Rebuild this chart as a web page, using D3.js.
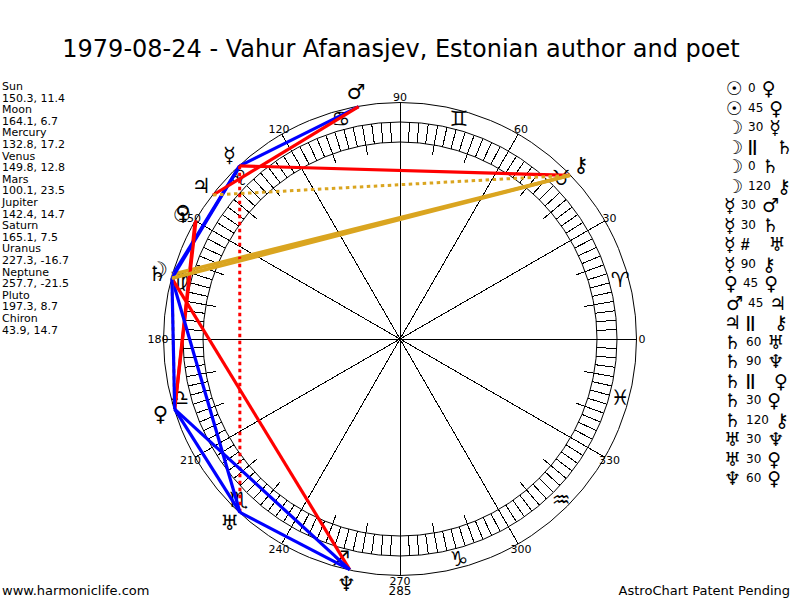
<!DOCTYPE html>
<html><head><meta charset="utf-8">
<style>html,body{margin:0;padding:0;background:#fff}svg{display:block}text{fill:#000;font-family:"DejaVu Sans",sans-serif}</style>
<script src="https://cdn.jsdelivr.net/npm/d3@7/dist/d3.min.js"></script>
</head><body><svg id="c" width="800" height="600"></svg>
<script>
const titleText = "1979-08-24 - Vahur Afanasjev, Estonian author and poet";
const planetNames = ["Sun","Moon","Mercury","Venus","Mars","Jupiter","Saturn","Uranus","Neptune","Pluto","Chiron"];
const longitudes = [150.3,164.1,132.8,149.8,100.1,142.4,165.1,227.3,257.7,197.3,43.9];
const latitudes = ["11.4","6.7","17.2","12.8","23.5","14.7","7.5","-16.7","-21.5","8.7","14.7"];
const planetGlyphs = ["☉","☽","☿","♀","♂","♃","♄","♅","♆","♀","⚷"];
const zodiacGlyphs = ["♈","♉","♊","♋","♌","♍","♎","♏","♐","♑","♒","♓"];
const aspectFrom = [0,0,1,1,1,1,2,2,2,2,3,4,5,6,6,6,6,6,7,7,8];
const aspectTo   = [3,9,2,6,6,10,4,6,7,10,9,5,10,7,8,9,9,10,8,9,9];
const aspectKind = ["0","45","30","||","0","120","30","30","#","90","45","45","||","60","90","||","30","120","30","30","60"];
const degreeLabels = [0,30,60,90,120,150,180,210,240,270,300,330];

const svg = d3.select("#c");
const cx = 400, cy = 339;
const angle = d3.scaleLinear().domain([0,360]).range([Math.PI/2, Math.PI/2-2*Math.PI]);
const radial = (deg,r) => { const p = d3.pointRadial(angle(deg), r); return [cx+p[0], cy+p[1]]; };

svg.append("text").attr("x",401).attr("y",57).attr("text-anchor","middle")
  .style("font-size","24px").text(titleText);

const wheel = svg.append("g").attr("fill","none").attr("stroke","#000").attr("stroke-width",1).attr("shape-rendering","crispEdges");
[236.5,217,197].forEach(r => wheel.append("circle").attr("cx",cx).attr("cy",cy).attr("r",r).attr("shape-rendering","auto"));
const seg = (g,deg,r0,r1) => { const a=radial(deg,r0), b=radial(deg,r1);
  g.append("line").attr("x1",a[0]).attr("y1",a[1]).attr("x2",b[0]).attr("y2",b[1]); };
d3.range(0,360,2.5).forEach(d => seg(wheel,d,197,217));
d3.range(0,360,10).forEach(d => seg(wheel,d,187,217));
d3.range(0,360,30).forEach(d => seg(wheel,d,0,236));

// zodiac
zodiacGlyphs.forEach((g,i) => { const p = radial(15+30*i,228);
  svg.append("text").attr("x",p[0]).attr("y",p[1]).attr("text-anchor","middle").attr("dominant-baseline","central")
    .style("font-size","21px").text(g+"\uFE0E"); });

// degree labels
degreeLabels.forEach(d => { const p = radial(d,242);
  svg.append("text").attr("x",p[0]).attr("y",p[1]+4).attr("text-anchor","middle").style("font-size","11px").text(d); });
svg.append("text").attr("x",400).attr("y",595).attr("text-anchor","middle").style("font-size","12px").text("285");

// aspect lines
const kindStyle = k => {
  if (k==="30"||k==="60") return {c:"#0000ff",w:3.2,d:null};
  if (k==="45"||k==="90") return {c:"#ff0000",w:3.2,d:null};
  if (k==="120") return {c:"#daa520",w:3.6,d:null};
  if (k==="||") return {c:"#daa520",w:3,d:"3.5 3.5"};
  if (k==="#") return {c:"#ff0000",w:3,d:"3.5 3.5"};
  return null;
};
const lineGen = d3.line();
aspectKind.forEach((k,i) => { const s = kindStyle(k); if(!s) return;
  svg.append("path").attr("d",lineGen([radial(longitudes[aspectFrom[i]],236),radial(longitudes[aspectTo[i]],236)]))
    .attr("fill","none").attr("stroke",s.c).attr("stroke-width",s.w).attr("stroke-dasharray",s.d); });

// planet glyphs
planetGlyphs.forEach((g,i) => { const p = radial(longitudes[i],251);
  svg.append("text").attr("x",p[0]).attr("y",p[1]).attr("text-anchor","middle").attr("dominant-baseline","central")
    .style("font-size","21px").text(g+"\uFE0E"); });

// left table
planetNames.forEach((n,i) => {
  svg.append("text").attr("x",2).attr("y",90+i*23.2).style("font-size","11px").text(n);
  svg.append("text").attr("x",2).attr("y",101.6+i*23.2).style("font-size","11px").text(longitudes[i].toFixed(1)+", "+latitudes[i]);
});

// right table (flowed left to right)
aspectKind.forEach((k,i) => {
  const y = 88+i*19.5;
  const t = svg.append("g");
  let x = aspectFrom[i]<2||aspectFrom[i]===4 ? 726 : 724;
  const put = (s,fs,extra) => { const e = t.append("text").attr("x",x).attr("y",y).attr("dominant-baseline","central").style("font-size",fs+"px").text(s);
    if(extra) e.style("font-family",'"Liberation Sans"').style("font-weight","bold");
    x += e.node().getComputedTextLength(); return e; };
  put(planetGlyphs[aspectFrom[i]]+"\uFE0E",19);
  x += 5;
  if (k==="||"||k==="#") { put(k,16,true); x += 19; }
  else { put(k,12); x += 6; }
  put(planetGlyphs[aspectTo[i]]+"\uFE0E",19);
});

svg.append("text").attr("x",2).attr("y",595).style("font-size","13px").text("www.harmoniclife.com");
svg.append("text").attr("x",790).attr("y",595).attr("text-anchor","end").style("font-size","13px").text("AstroChart Patent Pending");
</script></body></html>
